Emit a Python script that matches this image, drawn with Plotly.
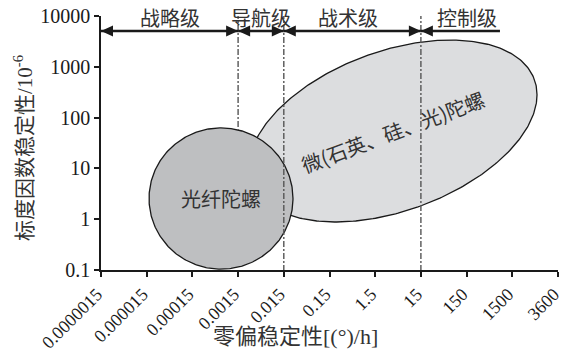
import numpy as np
import plotly.graph_objects as go

# Axis ticks: x categories are evenly spaced, y is logarithmic
x_labels = ["0.0000015", "0.000015", "0.00015", "0.0015", "0.015",
            "0.15", "1.5", "15", "150", "1500", "3600"]
y_ticks = [0.1, 1, 10, 100, 1000, 10000]
y_labels = ["0.1", "1", "10", "100", "1000", "10000"]
Y_LOG_RANGE = (-1, 4)

# Accuracy grades along the top (x positions in tick-index units)
grade_names = ["战略级", "导航级", "战术级", "控制级"]
grade_start = [0, 3, 4, 7]
grade_end = [3, 4, 7, 8.73]
grade_label_x = [1.5, 3.5, 5.4, 8.0]
grade_boundaries = [3, 4, 7]

# Fibre-optic gyro region: centre (x index, log10 y) and radii
fog_name = "光纤陀螺"
fog_center = (2.626, 0.407)
fog_radius = (1.575, 1.39)

# MEMS / quartz / silicon / optical gyro region: centre, half-extents, phase tilt (deg)
mems_name = "微(石英、硅、光)陀螺"
mems_center = (6.39, 1.736)
mems_half = (3.151, 1.791)
mems_tilt = 66.5

FONT_CJK = "Noto Sans CJK SC"
FONT_NUM = "Liberation Serif"
INK = "#1a1a1a"
TXT = "#333333"

t = np.linspace(0, 2 * np.pi, 361)

fig = go.Figure()

# tilted ellipse
d = np.deg2rad(mems_tilt)
ex = mems_center[0] + mems_half[0] * np.cos(t)
ey = mems_center[1] + mems_half[1] * np.cos(t - d)
fig.add_trace(go.Scatter(x=ex, y=10 ** ey, mode="lines", fill="toself",
                         fillcolor="#dcdddf", line=dict(color=INK, width=1.3),
                         hoverinfo="skip", showlegend=False))

# circle, drawn over the ellipse
cx = fog_center[0] + fog_radius[0] * np.cos(t)
cy = fog_center[1] + fog_radius[1] * np.sin(t)
fig.add_trace(go.Scatter(x=cx, y=10 ** cy, mode="lines", fill="toself",
                         fillcolor="#bebfc1", line=dict(color=INK, width=1.3),
                         hoverinfo="skip", showlegend=False))

# dash-dot grade boundaries; the first one stops at the circle
top_log = 4.06
for i, b in enumerate(grade_boundaries):
    bottom_log = Y_LOG_RANGE[0]
    if i == 0:
        k = (b - fog_center[0]) / fog_radius[0]
        bottom_log = fog_center[1] + fog_radius[1] * np.sqrt(1 - k * k)
    fig.add_trace(go.Scatter(x=[b, b], y=[10 ** top_log, 10 ** bottom_log],
                             mode="lines", cliponaxis=False,
                             line=dict(color="#555555", width=1.4, dash="6px,2px,2px,2px"),
                             hoverinfo="skip", showlegend=False))

# grade arrows: shaft plus filled triangular heads (heads sized in pixels)
arrow_log = 3.705
arrow_paper = (arrow_log - Y_LOG_RANGE[0]) / (Y_LOG_RANGE[1] - Y_LOG_RANGE[0])
HEAD_RIGHT = "M0,0 L-12,5.5 L-12,-5.5 Z"
HEAD_LEFT = "M0,0 L12,5.5 L12,-5.5 Z"


def head(x, path):
    fig.add_shape(type="path", path=path, xref="x", yref="paper",
                  xsizemode="pixel", ysizemode="pixel", xanchor=x, yanchor=arrow_paper,
                  fillcolor=INK, line=dict(width=0), layer="above")


for i, (s, e) in enumerate(zip(grade_start, grade_end)):
    last = i == len(grade_start) - 1
    fig.add_shape(type="line", x0=s, x1=e, y0=arrow_paper, y1=arrow_paper,
                  xref="x", yref="paper", line=dict(color=INK, width=2.4), layer="above")
    head(s, HEAD_LEFT)
    if not last:
        head(e, HEAD_RIGHT)
    fig.add_annotation(x=grade_label_x[i], y=3.97, xref="x", yref="y",
                       text=grade_names[i], showarrow=False, yanchor="middle",
                       font=dict(family=FONT_CJK, size=20, color=TXT))

# region labels
fig.add_annotation(x=fog_center[0], y=fog_center[1], xref="x", yref="y",
                   text=fog_name, showarrow=False,
                   font=dict(family=FONT_CJK, size=20, color=TXT))
fig.add_annotation(x=mems_center[0], y=mems_center[1], xref="x", yref="y",
                   text=mems_name, showarrow=False, textangle=-20.5,
                   font=dict(family=FONT_CJK, size=20, color=TXT))

# axis titles
fig.add_annotation(x=0.4256, y=-0.26, xref="paper", yref="paper",
                   xanchor="center", yanchor="middle",
                   text="零偏稳定性[(°)/h]", showarrow=False,
                   font=dict(family=f"{FONT_NUM}, {FONT_CJK}", size=22, color=TXT))
fig.add_annotation(x=-0.1707, y=0.48, xref="paper", yref="paper",
                   xanchor="center", yanchor="middle",
                   text="标度因数稳定性/10<sup>-6</sup>", showarrow=False, textangle=-90,
                   font=dict(family=f"{FONT_NUM}, {FONT_CJK}", size=21, color=TXT))

axis_style = dict(showline=True, linecolor=INK, linewidth=1.5, ticks="outside",
                  ticklen=5, tickwidth=1.5, tickcolor=INK, showgrid=False,
                  zeroline=False, automargin=False, ticklabeloverflow="allow")

fig.update_xaxes(range=[0, 10], tickmode="array", tickvals=list(range(len(x_labels))),
                 ticktext=x_labels, tickangle=-45, ticklabelshift=-4,
                 tickfont=dict(family=FONT_NUM, size=18, color=INK), **axis_style)
fig.update_yaxes(type="log", range=list(Y_LOG_RANGE), tickmode="array", tickvals=y_ticks,
                 ticktext=y_labels,
                 tickfont=dict(family=FONT_NUM, size=20, color=INK), **axis_style)

fig.update_layout(width=562, height=353, margin=dict(l=101, r=4, t=16, b=83),
                  plot_bgcolor="white", paper_bgcolor="white", showlegend=False)

fig.write_html("out.html")
